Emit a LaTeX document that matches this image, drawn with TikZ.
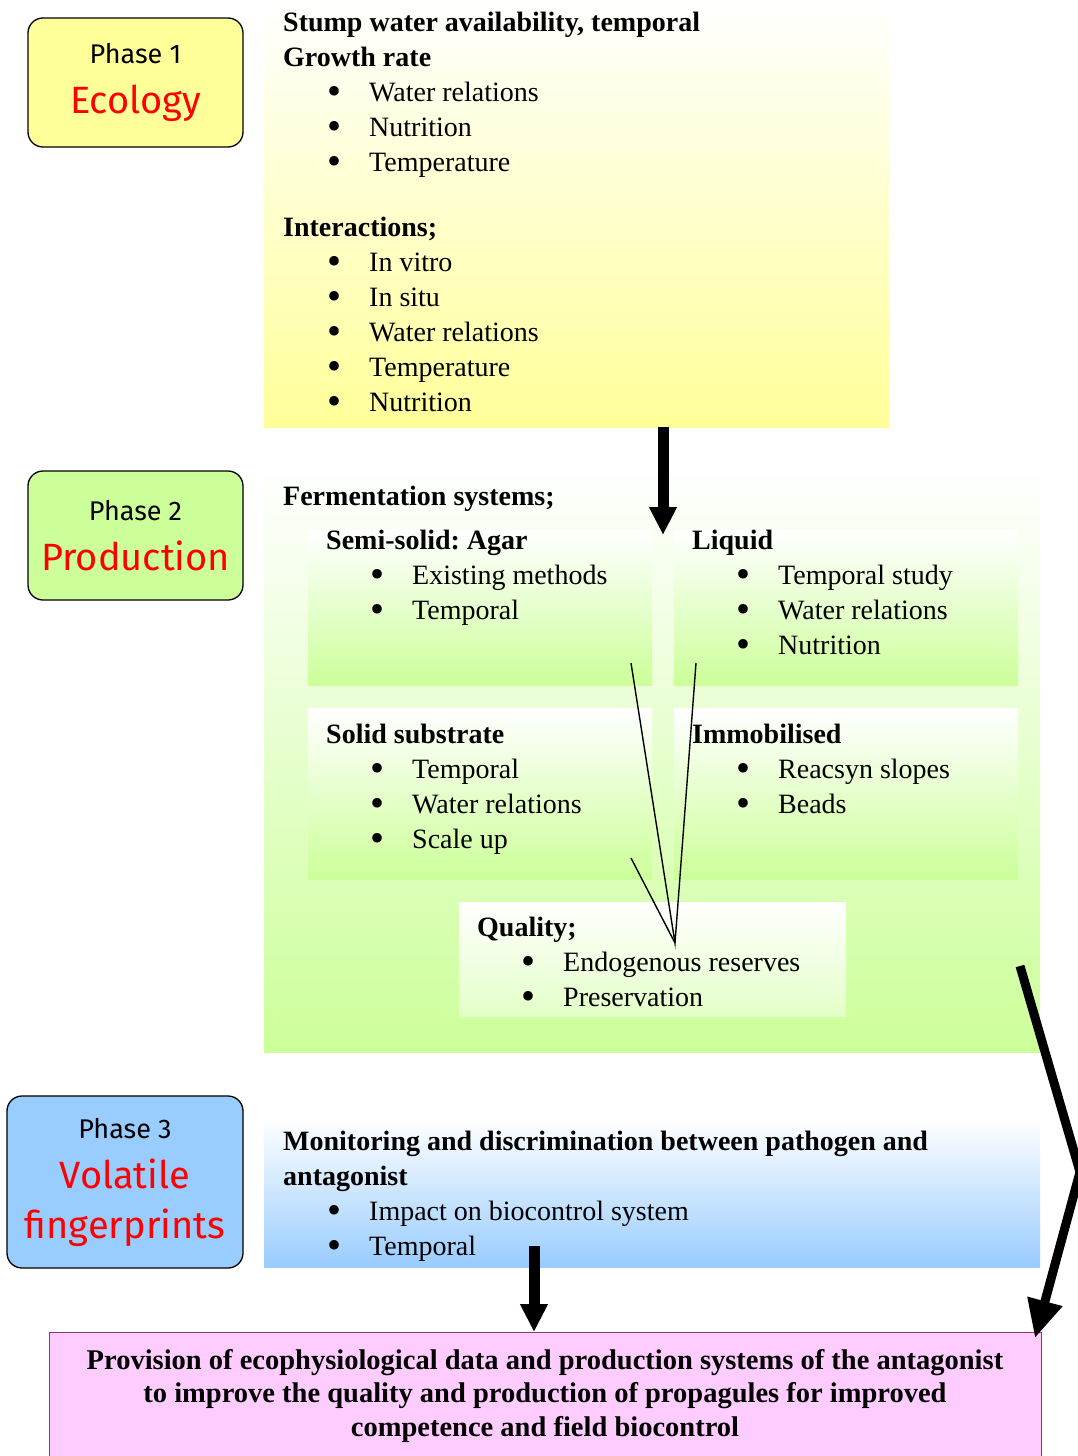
\documentclass[tikz,border=0pt]{standalone}
\usepackage{fontspec}
\setmainfont{Liberation Serif}
\newfontfamily\phasefont{Fira Sans}
\usetikzlibrary{arrows.meta,positioning}
\definecolor{ylw}{RGB}{255,255,153}
\definecolor{grn}{RGB}{204,255,153}
\definecolor{blu}{RGB}{153,204,255}
\definecolor{pnk}{RGB}{255,204,255}
\definecolor{pnkline}{RGB}{153,51,102}
\frenchspacing
\newcommand{\blt}[1]{\hspace*{44pt}\makebox[42pt][l]{\raisebox{-3pt}[0pt][0pt]{\fontsize{40}{35}\selectfont\textbullet}}#1}
\newcommand{\bigword}[1]{{\color{red}\fontsize{38}{50}\selectfont #1}}
\tikzset{
    phase box/.style={draw, line width=1.3pt, rounded corners=15pt, align=center,
        font=\phasefont\fontsize{27}{50}\selectfont},
    panel/.style={rectangle, inner sep=0pt, anchor=north west},
    txt block/.style={anchor=base west, inner sep=0pt, align=left,
        font=\fontsize{28}{35}\selectfont},
    big arrow/.style={line width=11pt, -{Triangle[length=28pt,width=26pt]}},
    thin line/.style={line width=1.4pt}
}
\begin{document}
\begin{tikzpicture}[x=1pt,y=-1pt]
    \useasboundingbox (0,0) rectangle (1077,1456);
    % panels
    \node[panel, minimum width=625pt, minimum height=427pt, top color=white, bottom color=ylw] (ecopanel) at (264,0) {};
    \node[panel, minimum width=776pt, minimum height=587pt, top color=white, bottom color=grn] (prodpanel) at (264,465) {};
    \node[panel, minimum width=344pt, minimum height=155pt, top color=white, bottom color=grn] (semibox) at (308,530) {};
    \node[panel, minimum width=344pt, minimum height=155pt, top color=white, bottom color=grn] (liquidbox) at (674,530) {};
    \node[panel, minimum width=344pt, minimum height=171pt, top color=white, bottom color=grn] (solidbox) at (308,708) {};
    \node[panel, minimum width=344pt, minimum height=171pt, top color=white, bottom color=grn] (immobox) at (674,708) {};
    \node[panel, minimum width=387pt, minimum height=114pt, top color=white, bottom color=grn!55!white] (qualbox) at (459,902) {};
    \node[panel, minimum width=776pt, minimum height=149pt, top color=white, bottom color=blu] (volpanel) at (264,1118) {};
    \node[panel, minimum width=992pt, minimum height=140pt, fill=pnk, draw=pnkline, line width=1.3pt] (outbox) at (49,1332) {};
    % phase labels
    \node[phase box, fill=ylw, minimum width=215pt, minimum height=129pt] (phase1) at (135.5,82.5) {Phase 1\\\bigword{Ecology}};
    \node[phase box, fill=grn, minimum width=215pt, minimum height=129pt] (phase2) at (135.5,535.5) {Phase 2\\\bigword{Production}};
    \node[phase box, fill=blu, minimum width=236pt, minimum height=172pt] (phase3) at (125,1182) {Phase 3\\\bigword{Volatile}\\\bigword{fingerprints}};
    % texts (anchored at the baseline of the last line)
    \node[txt block] (ecotext) at (283,411) {\textbf{Stump water availability, temporal}\\
        \textbf{Growth rate}\\ \blt{Water relations}\\ \blt{Nutrition}\\ \blt{Temperature}\\[30pt]
        \textbf{Interactions;}\\ \blt{In vitro}\\ \blt{In situ}\\ \blt{Water relations}\\
        \blt{Temperature}\\ \blt{Nutrition}};
    \node[txt block] (fermtext) at (283,505) {\textbf{Fermentation systems;}};
    \node[txt block] (semitext) at (326,619) {\textbf{Semi-solid: Agar}\\ \blt{Existing methods}\\ \blt{Temporal}};
    \node[txt block] (liquidtext) at (692,654) {\textbf{Liquid}\\ \blt{Temporal study}\\ \blt{Water relations}\\ \blt{Nutrition}};
    \node[txt block] (solidtext) at (326,848) {\textbf{Solid substrate}\\ \blt{Temporal}\\ \blt{Water relations}\\ \blt{Scale up}};
    \node[txt block] (immotext) at (692,813) {\textbf{Immobilised}\\ \blt{Reacsyn slopes}\\ \blt{Beads}};
    \node[txt block] (qualtext) at (477,1006) {\textbf{Quality;}\\ \blt{Endogenous reserves}\\ \blt{Preservation}};
    \node[txt block] (voltext) at (283,1255) {\textbf{Monitoring and discrimination between pathogen and}\\
        \textbf{antagonist}\\ \blt{Impact on biocontrol system}\\ \blt{Temporal}};
    \node[anchor=base, inner sep=0pt, align=center, font=\bfseries\fontsize{28.5}{33.5}\selectfont] (outtext) at (545,1436)
        {Provision of ecophysiological data and production systems of the antagonist\\
        to improve the quality and production of propagules for improved\\
        competence and field biocontrol};
    % connectors
    \coordinate (conv) at (675,943);
    \coordinate (semiend) at (631,663);
    \coordinate (liquidend) at (696,663);
    \coordinate (solidend) at (631,858);
    \draw[thin line] (semiend) -- (conv) -- (liquidend);
    \draw[thin line] (solidend) -- (conv);
    \coordinate (ecoout) at (663,427);
    \coordinate (prodin) at (663,535);
    \draw[big arrow] (ecoout) -- (prodin);
    \coordinate (prodout) at (1020,966);
    \coordinate (bend) at (1080,1172);
    \coordinate (outin) at (1035,1338);
    \draw[line width=9pt, -{Triangle[length=38pt,width=34pt]}] (prodout) -- (bend) -- (outin);
    \coordinate (volout) at (534,1246);
    \coordinate (volin) at (534,1332);
    \draw[big arrow] (volout) -- (volin);
\end{tikzpicture}
\end{document}
